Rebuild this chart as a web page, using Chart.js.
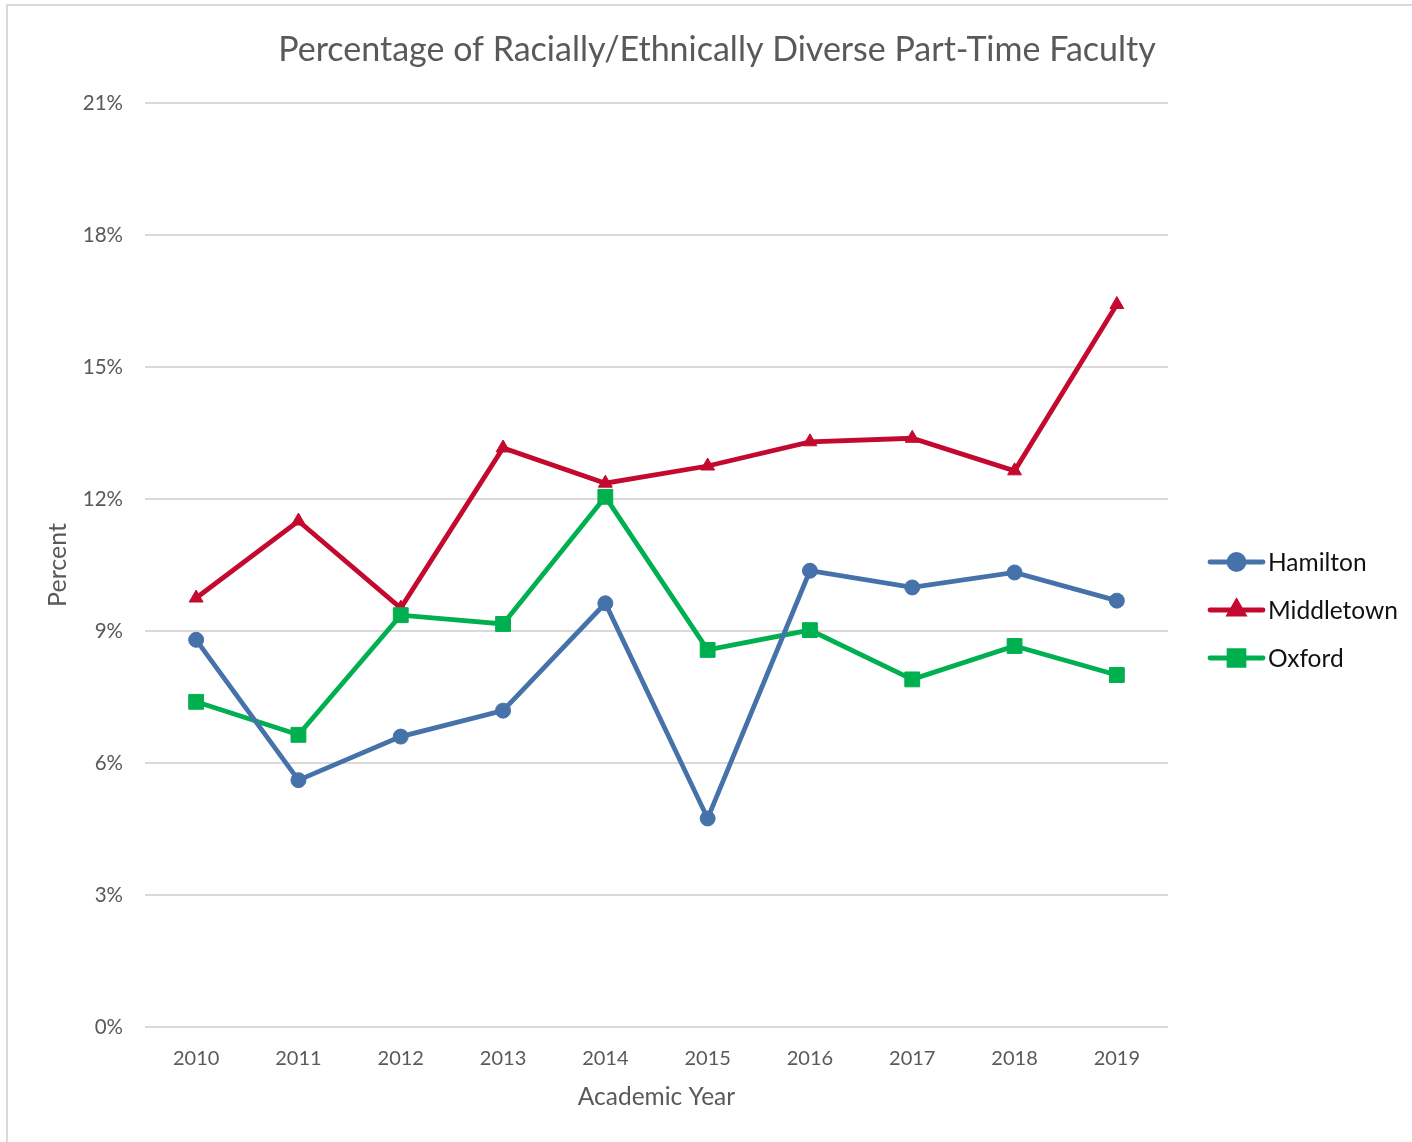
<!DOCTYPE html>
<html>
<head>
<meta charset="utf-8">
<script src="https://cdn.jsdelivr.net/npm/chart.js@4.4.0/dist/chart.umd.min.js"></script>
<style>
html, body { margin: 0; padding: 0; background: #fff; }
</style>
</head>
<body>
<canvas id="chart" width="1412" height="1142"></canvas>
<script>
// data
const years = ['2010', '2011', '2012', '2013', '2014', '2015', '2016', '2017', '2018', '2019'];
const hamilton = [8.80, 5.61, 6.60, 7.19, 9.63, 4.74, 10.37, 9.99, 10.33, 9.69];
const middletown = [9.75, 11.50, 9.52, 13.16, 12.36, 12.75, 13.30, 13.38, 12.64, 16.42];
const oxford = [7.39, 6.64, 9.36, 9.16, 12.05, 8.57, 9.02, 7.90, 8.66, 8.00];
const yMin = 0, yMax = 21, yStep = 3;

const titleText = 'Percentage of Racially/Ethnically Diverse Part-Time Faculty';
const gray = '#595959';
const fontFamily = 'Lato, "Open Sans", sans-serif';

function series(label, data, color, style, radius, order) {
  return {
    label: label,
    data: data,
    borderColor: color,
    backgroundColor: color,
    borderWidth: 4.8,
    pointStyle: style,
    pointRadius: radius,
    pointHoverRadius: radius,
    pointBorderWidth: 1,
    pointBackgroundColor: color,
    pointBorderColor: color,
    tension: 0,
    order: order
  };
}

// title, frame and line+marker legend
const decor = {
  id: 'decor',
  beforeDraw(chart) {
    const ctx = chart.ctx;
    ctx.save();
    ctx.strokeStyle = '#d9d9d9';
    ctx.lineWidth = 2;
    ctx.beginPath();
    ctx.moveTo(7, 1142);
    ctx.lineTo(7, 5);
    ctx.lineTo(1412, 5);
    ctx.stroke();
    ctx.restore();
  },
  afterDraw(chart) {
    const ctx = chart.ctx;
    ctx.save();
    ctx.fillStyle = gray;
    ctx.font = '34px ' + fontFamily;
    ctx.textAlign = 'center';
    ctx.textBaseline = 'middle';
    ctx.fillText(titleText, 717, 50);

    const x0 = 1210, x1 = 1263, tx = 1268;
    let y = 562;
    chart.data.datasets.forEach(ds => {
      ctx.strokeStyle = ds.borderColor;
      ctx.fillStyle = ds.borderColor;
      ctx.lineWidth = 4.8;
      ctx.lineCap = 'round';
      ctx.beginPath();
      ctx.moveTo(x0, y);
      ctx.lineTo(x1, y);
      ctx.stroke();
      Chart.helpers.drawPoint(ctx, {
        pointStyle: ds.pointStyle, radius: ds.pointRadius, rotation: 0, borderWidth: 1
      }, (x0 + x1) / 2, y);
      ctx.fillStyle = '#111';
      ctx.font = '24.5px ' + fontFamily;
      ctx.textAlign = 'left';
      ctx.textBaseline = 'middle';
      ctx.fillText(ds.label, tx, y + 1);
      y += 48;
    });
    ctx.restore();
  }
};

new Chart(document.getElementById('chart').getContext('2d'), {
  type: 'line',
  data: {
    labels: years,
    datasets: [
      series('Hamilton', hamilton, '#4672AA', 'circle', 7.5, 1),
      series('Middletown', middletown, '#C4092F', 'triangle', 8, 3),
      series('Oxford', oxford, '#00B050', 'rect', 10.5, 2)
    ]
  },
  options: {
    responsive: false,
    animation: false,
    layout: { padding: { top: 103, right: 244, bottom: 20, left: 0 } },
    plugins: {
      legend: { display: false },
      title: { display: false },
      tooltip: { enabled: false }
    },
    scales: {
      x: {
        offset: true,
        grid: { display: false, drawTicks: false },
        border: { display: false },
        ticks: { color: gray, font: { family: fontFamily, size: 20 }, padding: 20 },
        title: {
          display: true, text: 'Academic Year', color: gray,
          font: { family: fontFamily, size: 24.5 }, padding: { top: 0, bottom: 10 }
        },
        afterFit(scale) { scale.height = 95; }
      },
      y: {
        min: yMin,
        max: yMax,
        grid: { color: '#d9d9d9', lineWidth: 2, drawTicks: false },
        border: { display: false },
        ticks: {
          stepSize: yStep,
          color: gray,
          font: { family: fontFamily, size: 20.5 },
          padding: 22,
          callback: v => v + '%'
        },
        title: {
          display: true, text: 'Percent', color: gray,
          font: { family: fontFamily, size: 25 }, padding: { top: 43, bottom: 0 }
        },
        afterFit(scale) { scale.width = 145; }
      }
    }
  },
  plugins: [decor]
});
</script>
</body>
</html>
